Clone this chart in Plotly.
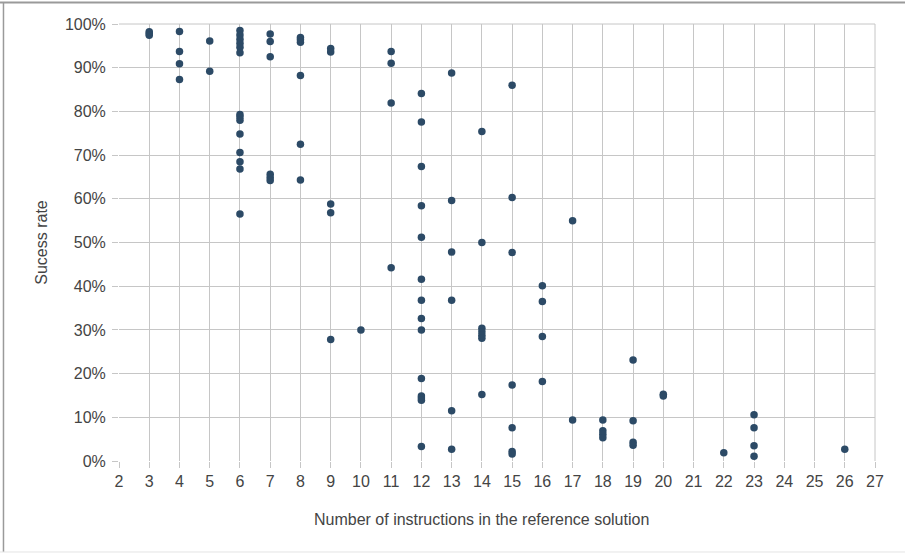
import plotly.graph_objects as go

# Data
instructions = (
    [3, 3, 3]
    + [4, 4, 4, 4]
    + [5, 5]
    + [6] * 14
    + [7] * 6
    + [8] * 6
    + [9] * 5
    + [10]
    + [11] * 4
    + [12] * 14
    + [13] * 6
    + [14] * 7
    + [15] * 7
    + [16] * 4
    + [17] * 2
    + [18] * 4
    + [19] * 4
    + [20] * 2
    + [22]
    + [23] * 4
    + [26]
)

success_rate = (
    [98.2, 97.8, 97.4]
    + [98.3, 93.7, 90.9, 87.3]
    + [96.1, 89.2]
    + [98.5, 97.5, 96.5, 95.6, 94.7, 93.4, 79.3, 78.7, 78.0, 74.8, 70.6, 68.5, 66.8, 56.5]
    + [97.7, 96.0, 92.5, 65.6, 64.9, 64.2]
    + [96.9, 96.4, 95.8, 88.2, 72.5, 64.3]
    + [94.4, 93.6, 58.8, 56.8, 27.8]
    + [30.0]
    + [93.7, 91.0, 81.9, 44.2]
    + [84.1, 77.6, 67.4, 58.4, 51.2, 41.6, 36.8, 32.6, 30.0, 18.9, 14.9, 14.4, 13.9, 3.3]
    + [88.8, 59.6, 47.8, 36.8, 11.5, 2.7]
    + [75.4, 50.0, 30.4, 29.6, 28.8, 28.1, 15.2]
    + [86.0, 60.3, 47.7, 17.4, 7.6, 2.2, 1.6]
    + [40.1, 36.5, 28.5, 18.2]
    + [55.0, 9.4]
    + [9.4, 6.9, 6.1, 5.3]
    + [23.1, 9.2, 4.3, 3.6]
    + [15.3, 14.9]
    + [1.9]
    + [10.6, 7.6, 3.5, 1.1]
    + [2.7]
)

x_ticks = list(range(2, 28))
y_ticks = list(range(0, 101, 10))

x_title = "Number of instructions in the reference solution"
y_title = "Sucess rate"

FONT = "Liberation Sans, Arial, sans-serif"
GRID = "#c6c6c6"
TEXT = "#444444"

fig = go.Figure()
fig.add_trace(go.Scatter(
    x=instructions,
    y=success_rate,
    mode="markers",
    marker=dict(color="#2c4a66", size=7.5),
    showlegend=False,
    hoverinfo="x+y",
))

fig.update_layout(
    width=905,
    height=555,
    margin=dict(l=119, r=30, t=24, b=94),
    paper_bgcolor="white",
    plot_bgcolor="white",
    font=dict(family=FONT, size=16, color=TEXT),
    xaxis=dict(
        range=[2, 27],
        tickvals=x_ticks,
        ticktext=[str(v) for v in x_ticks],
        showgrid=True,
        gridcolor=GRID,
        gridwidth=1,
        zeroline=False,
        showline=False,
        ticks="outside",
        ticklen=6,
        tickcolor=GRID,
        tickfont=dict(size=16, color=TEXT),
    ),
    yaxis=dict(
        range=[0, 100],
        tickvals=y_ticks,
        ticktext=[f"{v}%" for v in y_ticks],
        showgrid=True,
        gridcolor=GRID,
        gridwidth=1,
        zeroline=False,
        showline=False,
        ticks="outside",
        ticklen=6,
        tickcolor=GRID,
        ticklabelstandoff=3,
        tickfont=dict(size=16, color=TEXT),
        title=dict(text=y_title, font=dict(size=16, color=TEXT), standoff=13),
    ),
    annotations=[
        dict(text=x_title, xref="paper", yref="paper",
             x=0.480, y=-0.109, xanchor="center", yanchor="top",
             showarrow=False, font=dict(size=16, color=TEXT)),
    ],
    shapes=[
        # top border of the chart frame
        dict(type="line", xref="paper", yref="paper",
             x0=-0.1574, x1=1.0397, y0=1.0492, y1=1.0492,
             line=dict(color="#9a9a9a", width=2), layer="above"),
        # left border
        dict(type="line", xref="paper", yref="paper",
             x0=-0.1528, x1=-0.1528, y0=1.0492, y1=-0.2082,
             line=dict(color="#9a9a9a", width=1.5), layer="above"),
        # bottom light border
        dict(type="line", xref="paper", yref="paper",
             x0=-0.1574, x1=1.0397, y0=-0.2082, y1=-0.2082,
             line=dict(color="#e4e4e4", width=1), layer="above"),
        # right edge gridline of plot area
        dict(type="line", xref="paper", yref="paper",
             x0=1, x1=1, y0=0, y1=1,
             line=dict(color=GRID, width=1), layer="below"),
        # top gridline
        dict(type="line", xref="paper", yref="paper",
             x0=0, x1=1, y0=1, y1=1,
             line=dict(color=GRID, width=1), layer="below"),
    ],
)

fig.write_html("out.html", config={"displayModeBar": False},
               post_script="document.body.style.margin='0';")
